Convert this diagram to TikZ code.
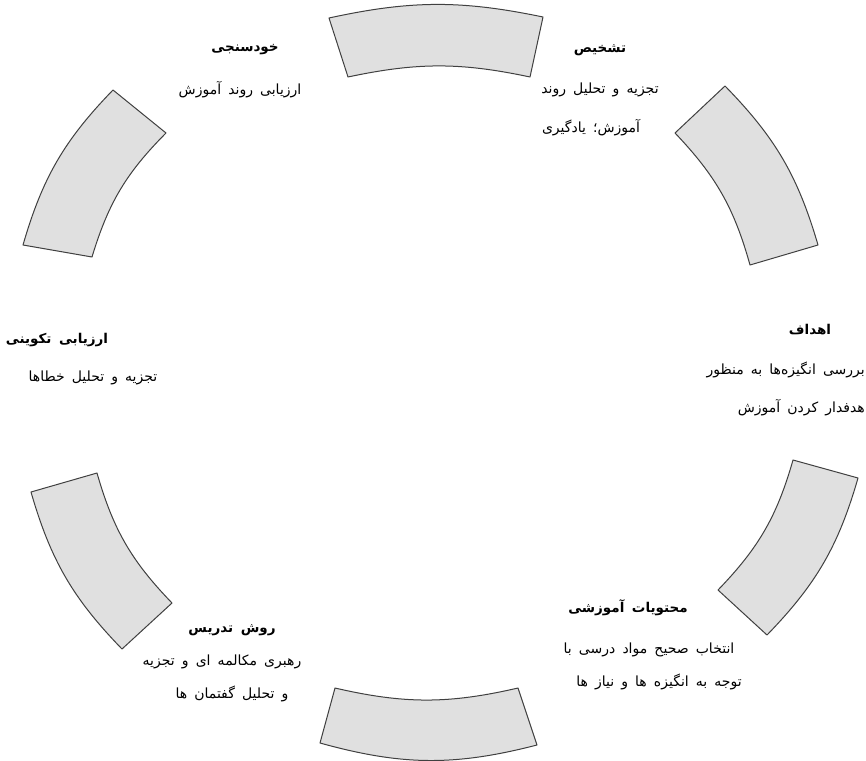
\documentclass[tikz,border=0pt]{standalone}
\usepackage{fontspec}
\TeXXeTstate=1
\newfontfamily\fa[Script=Arabic,WordSpace=1.6]{DejaVu Sans}
\tikzset{
  sector/.style={draw=black!75, fill=black!12, line width=1pt, line join=round},
  ttl/.style={font=\fa\bfseries\fontsize{13.5}{16}\selectfont, inner sep=0pt, text=black},
  body/.style={font=\fa\fontsize{14}{16}\selectfont, inner sep=0pt, text=black},
}
\newcommand{\rtl}[1]{\beginR #1\endR}
\begin{document}
\begin{tikzpicture}[x=1pt,y=1pt]
\useasboundingbox (0,0) rectangle (866,-760);
% sectors of the ring
\draw[sector] (329,-18) to[bend left=12] (543,-17) -- (530,-77) to[bend right=12] (348,-77) -- cycle;
\draw[sector] (725,-86) to[bend left=14] (818,-245) -- (750,-265) to[bend right=14] (675,-133) -- cycle;
\draw[sector] (858,-478) to[bend left=14] (767,-635) -- (718,-590) to[bend right=14] (793,-460) -- cycle;
\draw[sector] (537,-745) to[bend left=15] (320,-743) -- (335,-688) to[bend right=13] (518,-688) -- cycle;
\draw[sector] (122,-649) to[bend left=14] (31,-492) -- (97,-473) to[bend right=14] (172,-603) -- cycle;
\draw[sector] (23,-245) to[bend left=14] (113,-90) -- (166,-133) to[bend right=14] (92,-257) -- cycle;
% labels
\node[ttl]  (a1) at (245,-50) {\rtl{خودسنجی}};
\node[body] (a2) at (240,-90) {\rtl{ارزیابی روند آموزش}};
\node[ttl]  (b1) at (600,-50) {\rtl{تشخیص}};
\node[body] (b2) at (600,-90) {\rtl{تجزیه و تحلیل روند}};
\node[body] (b3) at (591,-128) {\rtl{آموزش؛ یادگیری}};
\node[ttl]  (c1) at (810,-330) {\rtl{اهداف}};
\node[body,anchor=east] (c2) at (865,-370) {\rtl{بررسی انگیزه‌ها به منظور}};
\node[body,anchor=east] (c3) at (865,-408) {\rtl{هدفدار کردن آموزش}};
\node[ttl]  (d1) at (628,-608) {\rtl{محتویات آموزشی}};
\node[body] (d2) at (649,-650) {\rtl{انتخاب صحیح مواد درسی با}};
\node[body] (d3) at (659,-682) {\rtl{توجه به انگیزه ها و نیاز ها}};
\node[ttl]  (e1) at (232,-630) {\rtl{روش تدریس}};
\node[body] (e2) at (222,-662) {\rtl{رهبری مکالمه ای و تجزیه}};
\node[body] (e3) at (232,-694) {\rtl{و تحلیل گفتمان ها}};
\node[ttl]  (f1) at (57,-340) {\rtl{ارزیابی تکوینی}};
\node[body] (f2) at (93,-378) {\rtl{تجزیه و تحلیل خطاها}};
\end{tikzpicture}
\end{document}
